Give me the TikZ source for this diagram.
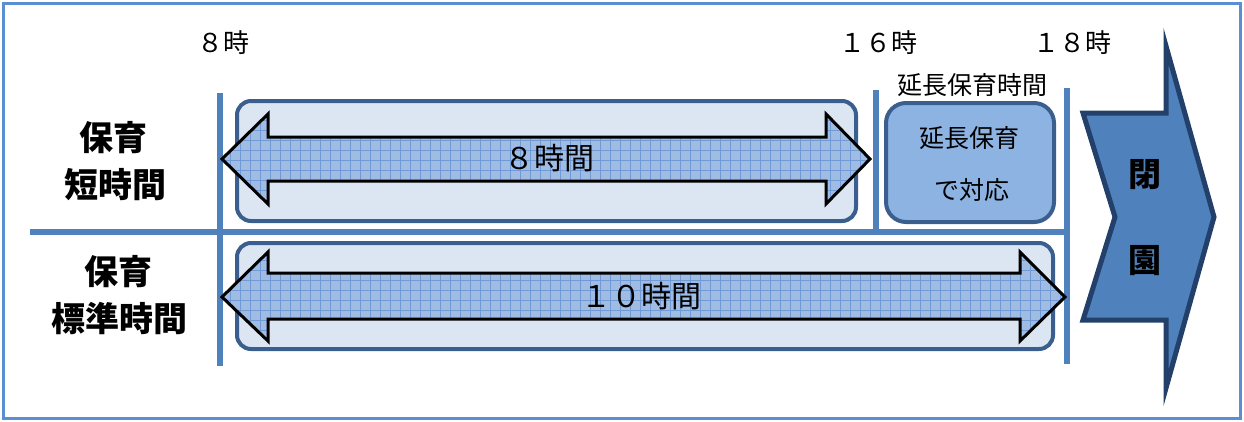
\documentclass[tikz,border=0pt]{standalone}
\usepackage{fontspec}
\setmainfont{Noto Sans CJK JP}
\definecolor{linecol}{HTML}{4F81BD}
\definecolor{framecol}{HTML}{5B8FD3}
\definecolor{boxfill}{HTML}{DCE6F2}
\definecolor{boxdraw}{HTML}{3A5F8E}
\definecolor{extfill}{HTML}{8DB3E2}
\definecolor{arrfill}{HTML}{A0BCE2}
\definecolor{gridcol}{HTML}{6F9AD6}
\definecolor{chevfill}{HTML}{4F81BD}
\definecolor{chevdraw}{HTML}{22406A}
\tikzset{
  sep/.style={draw=linecol, line width=5.5pt},
  panel/.style={draw=boxdraw, fill=boxfill, line width=4pt, rounded corners=14pt},
  extbox/.style={draw=boxdraw, fill=extfill, line width=4pt, rounded corners=20pt},
  timelbl/.style={font=\fontsize{26}{30}\selectfont, inner sep=0pt},
  rowlbl/.style={font=\fontsize{34}{38}\selectfont\bfseries, inner sep=0pt},
  chevlbl/.style={font=\fontsize{33}{38}\selectfont\bfseries, inner sep=0pt},
  midlbl/.style={font=\fontsize{30}{34}\selectfont, inner sep=0pt},
  extlbl/.style={font=\fontsize{25}{28}\selectfont, inner sep=0pt},
}
\begin{document}
\begin{tikzpicture}[x=1pt,y=-1pt]
\useasboundingbox (0,0) rectangle (1244,421);
% outer frame
\draw[draw=framecol, line width=3pt] (3,3) rectangle (1240,418);
% separators
\draw[sep] (220,93) -- (220,366);
\draw[sep] (876,90) -- (876,229);
\draw[sep] (1067,88) -- (1067,364);
\draw[sep] (30,232) -- (1067,232);
% panels
\draw[panel] (237,101) rectangle (856,221);
\draw[panel] (237,243) rectangle (1053,349);
% double arrow 1
\def\arrA{(222,159) -- (268,114) -- (268,137) -- (826,137) -- (826,114) -- (870,159) -- (826,204) -- (826,181) -- (268,181) -- (268,204) -- cycle}
\fill[arrfill] \arrA;
\begin{scope}
\clip \arrA;
\draw[gridcol, line width=0.7pt, step=10pt] (215,105) grid (880,210);
\end{scope}
\draw[black, line width=3pt, line join=miter] \arrA;
% double arrow 2
\def\arrB{(222,297) -- (268,252) -- (268,273) -- (1020,273) -- (1020,252) -- (1065,297) -- (1020,341) -- (1020,319) -- (268,319) -- (268,341) -- cycle}
\fill[arrfill] \arrB;
\begin{scope}
\clip \arrB;
\draw[gridcol, line width=0.7pt, step=10pt] (215,245) grid (1070,350);
\end{scope}
\draw[black, line width=3pt, line join=miter] \arrB;
% extension box
\draw[extbox] (886,103) rectangle (1054,222);
% chevron
\draw[fill=chevfill, draw=chevdraw, line width=5pt, line join=miter]
  (1083,113) -- (1166,113) -- (1166,46) -- (1214,217) -- (1166,388) -- (1166,320) -- (1083,320) -- (1115,217) -- cycle;
% texts
\node[timelbl] (t8) at (223,43) {８時};
\node[timelbl] (t16) at (878,43) {１６時};
\node[timelbl] (t18) at (1072,43) {１８時};
\node[extlbl] (extt) at (972,85) {延長保育時間};
\node[extlbl] (ext1) at (969,138) {延長保育};
\node[extlbl] (ext2) at (972,190) {で対応};
\node[midlbl] (m8) at (549,158) {８時間};
\node[midlbl] (m10) at (641,296) {１０時間};
\node[rowlbl] (r1a) at (113,138) {保育};
\node[rowlbl] (r1b) at (115,185) {短時間};
\node[rowlbl] (r2a) at (118,272) {保育};
\node[rowlbl] (r2b) at (119,319) {標準時間};
\node[chevlbl] (c1) at (1145,175) {閉};
\node[chevlbl] (c2) at (1145,261) {園};
\end{tikzpicture}
\end{document}
